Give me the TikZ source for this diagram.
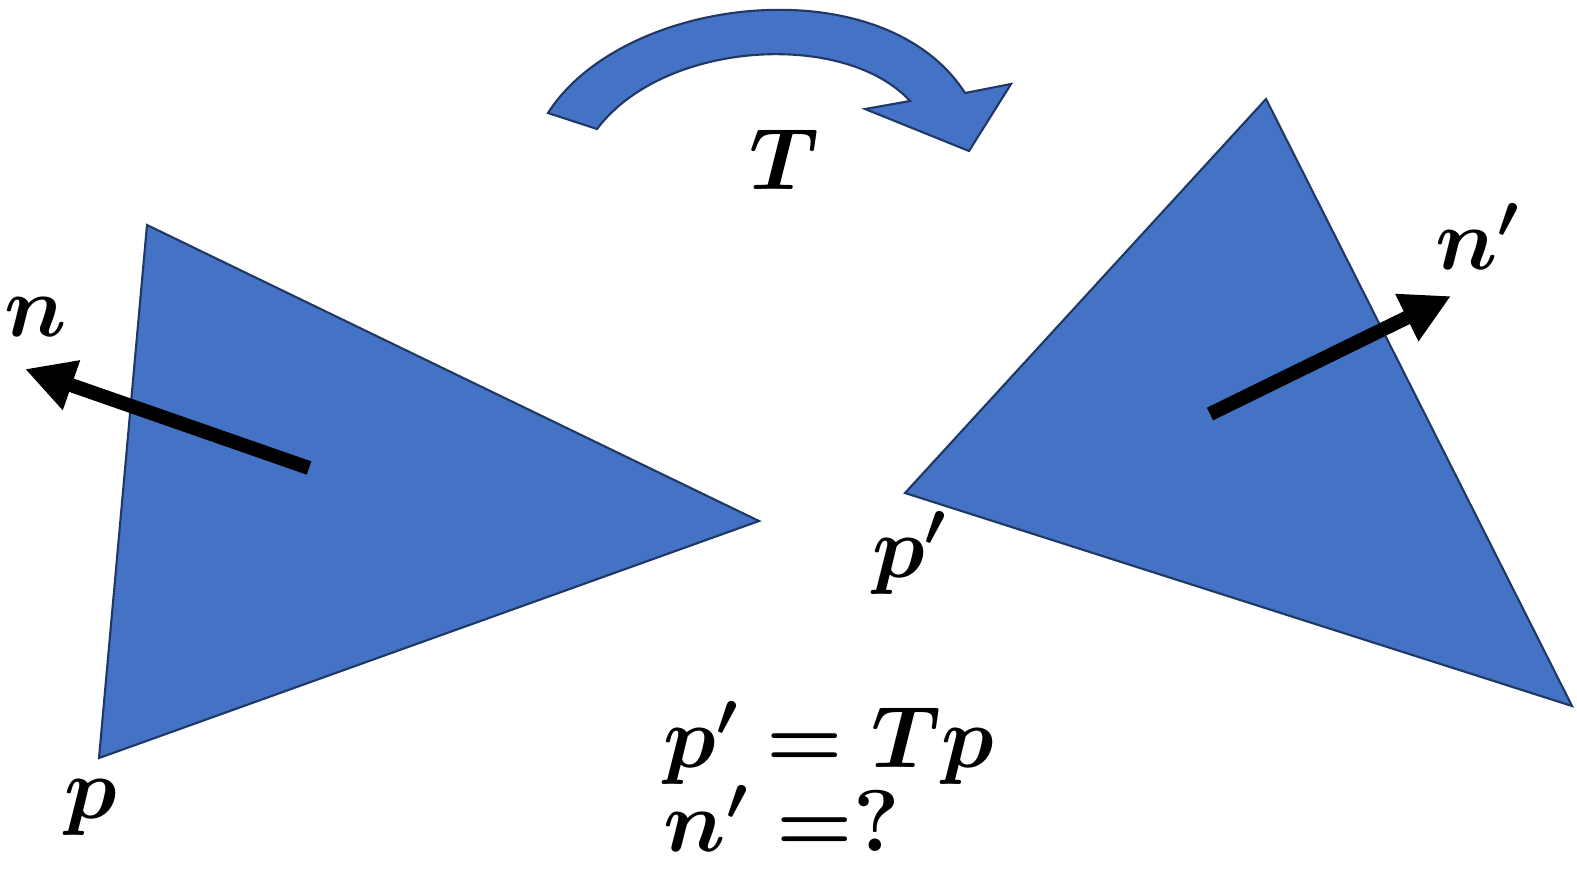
\documentclass[tikz,border=0pt]{standalone}
\usepackage{amsmath,amssymb,bm}
\usepackage{xcolor}
\usepackage{tikz}
\usetikzlibrary{positioning,arrows.meta}
\definecolor{triblue}{HTML}{4472C4}
\definecolor{edgeblue}{HTML}{1F3864}

\begin{document}
\begin{tikzpicture}[
  x=0.01cm, y=-0.01cm,
  font=\boldmath\fontsize{25}{30}\selectfont,
  tri/.style={fill=triblue, draw=edgeblue, line width=0.6pt, line join=miter},
  normal/.style={-{Triangle[length=14pt, width=14pt]}, line width=4pt, black},
  lab/.style={inner sep=0pt, anchor=base},
  eqn/.style={inner sep=0pt, anchor=base west, font=\boldmath\fontsize{24}{30}\selectfont}
]
\useasboundingbox (0,0) rectangle (1577,872);
% ----- triangles -----
\coordinate (a1) at (147,225);
\coordinate (a2) at (759,521);
\coordinate (a3) at (99,758);
\coordinate (b1) at (1266,99);
\coordinate (b2) at (1572,706);
\coordinate (b3) at (905,493);
\draw[tri] (a1) -- (a2) -- (a3) -- cycle;
\draw[tri] (b1) -- (b2) -- (b3) -- cycle;
% ----- transformation arrow T -----
\draw[tri] (548,113) .. controls (623,-5) and (883,-35) .. (965,93)
  -- (1011,84) -- (969,151) -- (865,109) -- (910,101)
  .. controls (845,30) and (664,40) .. (597,129) -- cycle;
\node[lab] (T) at (784,189) {$T$};
% ----- normals -----
\coordinate (n0) at (309,468);
\coordinate (n1) at (25,369);
\coordinate (m0) at (1210,414);
\coordinate (m1) at (1451,296);
\draw[normal] (n0) -- (n1);
\draw[normal] (m0) -- (m1);
% ----- labels -----
\node[lab] (nlab)  at (36,336)   {$n$};
\node[lab] (nplab) at (1478,269) {$n'$};
\node[lab] (plab)  at (91,818)   {$p$};
\node[lab] (pplab) at (910,577)  {$p'$};
\node[eqn] (eq1) at (663,767) {$p' = Tp$};
\node[eqn] (eq2) at (663,851) {$n' = ?$};
\end{tikzpicture}
\end{document}
